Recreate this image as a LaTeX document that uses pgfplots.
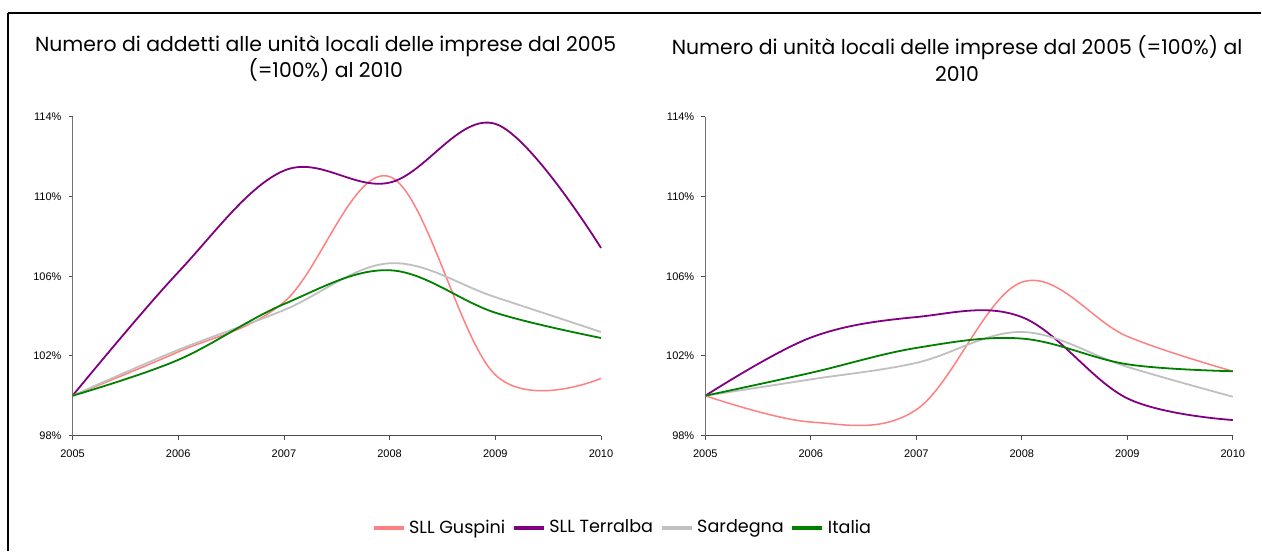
\documentclass[border=0pt]{standalone}
\usepackage{pgfplots}
\pgfplotsset{compat=1.18}
\usepackage{fontspec}
\newfontfamily\titlef{Poppins}
\newfontfamily\arialf{Liberation Sans}
\definecolor{cGus}{HTML}{FF8080}
\definecolor{cTer}{HTML}{800080}
\definecolor{cSar}{HTML}{C0C0C0}
\definecolor{cIta}{HTML}{008000}
\pgfplotsset{
  panel/.style={
    scale only axis,
    width=264.5pt, height=159.5pt,
    xmin=2005, xmax=2010, ymin=98, ymax=114,
    xtick={2005,2006,2007,2008,2009,2010},
    ytick={98,102,106,110,114},
    axis lines=left,
    axis line style={-},
    x axis line style={black!70},
    y axis line style={black!55},
    tick align=outside,
    major tick length=2pt,
    every tick/.style={black!70},
    /pgf/number format/assume math mode=true,
    tick label style={font=\arialf\fontsize{5.5}{6}\selectfont},
    xticklabel style={/pgf/number format/1000 sep={}, yshift=-1.5pt},
    yticklabel={\pgfmathprintnumber{\tick}\%},
    clip=false,
  },
  gus/.style={color=cGus, line width=0.75pt, smooth, tension=0.6},
  ter/.style={color=cTer, line width=0.9pt, smooth, tension=0.6},
  sar/.style={color=cSar, line width=0.9pt, smooth, tension=0.6},
  ita/.style={color=cIta, line width=0.9pt, smooth, tension=0.6},
}
\begin{document}
\begin{tikzpicture}
\fill[white] (0pt,0pt) rectangle (631pt,-276pt);
\draw[line width=1.25pt] (4pt,-6.5pt) -- (631pt,-6.5pt);
\draw[line width=1.25pt] (4pt,-6.5pt) -- (4pt,-276pt);

\node[font=\titlef\fontsize{10.2}{13.5}\selectfont, align=center] at (163pt,-29.25pt)
  {Numero di addetti alle unità locali delle imprese dal 2005\\(=100\%) al 2010};
\node[font=\titlef\fontsize{10.2}{13.5}\selectfont, align=center] at (479pt,-29.25pt)
  {Numero di unità locali delle imprese dal 2005 (=100\%) al\\2010};

% left panel: addetti
\begin{axis}[panel, at={(36.3pt,-218pt)}, anchor=origin]
\addplot[gus] coordinates {(2005,100)(2006,102.2)(2007,104.7)(2008,111.0)(2009,101.05)(2010,100.87)};
\addplot[ter] coordinates {(2005,100)(2006,106.2)(2007,111.3)(2008,110.7)(2009,113.65)(2010,107.42)};
\addplot[sar] coordinates {(2005,100)(2006,102.3)(2007,104.3)(2008,106.65)(2009,104.95)(2010,103.2)};
\addplot[ita] coordinates {(2005,100)(2006,101.8)(2007,104.6)(2008,106.3)(2009,104.17)(2010,102.9)};
\end{axis}

% right panel: unita locali
\begin{axis}[panel, at={(353pt,-218pt)}, anchor=origin, width=264pt,
  legend columns=4,
  legend style={at={(-0.155,-0.29)}, anchor=center, draw=none, fill=none,
    font=\titlef\fontsize{8.8}{9}\selectfont,
    /tikz/every even column/.append style={column sep=1.5pt}},
  legend image code/.code={\draw[#1, line width=1.6pt] (0pt,0pt) -- (15pt,0pt);},
]
\addplot[gus] coordinates {(2005,100)(2006,98.68)(2007,99.3)(2008,105.7)(2009,102.98)(2010,101.23)};
\addplot[ter] coordinates {(2005,100)(2006,102.92)(2007,103.95)(2008,103.95)(2009,99.87)(2010,98.78)};
\addplot[sar] coordinates {(2005,100)(2006,100.82)(2007,101.65)(2008,103.2)(2009,101.45)(2010,99.95)};
\addplot[ita] coordinates {(2005,100)(2006,101.15)(2007,102.4)(2008,102.87)(2009,101.58)(2010,101.23)};
\legend{SLL Guspini, SLL Terralba, Sardegna, Italia}
\end{axis}
\end{tikzpicture}
\end{document}
